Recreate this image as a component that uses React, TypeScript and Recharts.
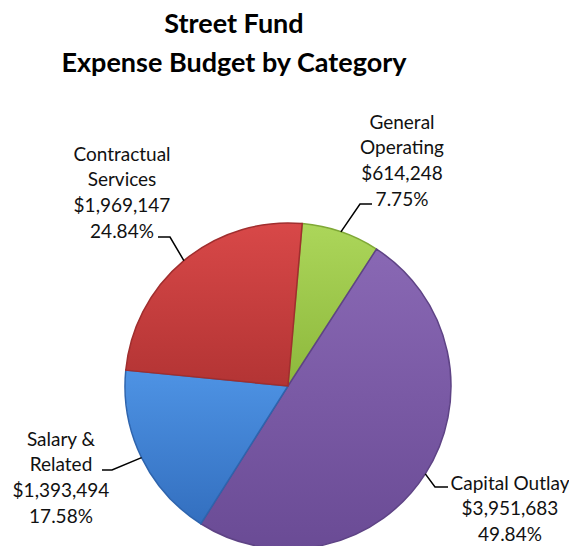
import React from "react";
import { PieChart, Pie, Cell } from "recharts";

const categories = ["General Operating", "Capital Outlay", "Salary & Related", "Contractual Services"];
const labelNames = [["General", "Operating"], ["Capital Outlay"], ["Salary &", "Related"], ["Contractual", "Services"]];
const amounts = [614248, 3951683, 1393494, 1969147];
const percentLabels = ["7.75%", "49.84%", "17.58%", "24.84%"];
const titleLines = ["Street Fund", "Expense Budget by Category"];

const colorsTop = ["#acd65a", "#8968b4", "#4e93e4", "#d84848"];
const colorsBottom = ["#8db83c", "#6a4b95", "#336fbf", "#b33434"];
const strokeColors = ["#7fa836", "#5e4385", "#2e64ad", "#a02e2e"];

// label layout relative to the pie centre: elbow, line end, text centre x, first line centre y
const labelLayout = [
  { ex: 72, ey: -182, lx: 84, ly: -182, tx: 114, ty: -265 },
  { ex: 147, ey: 101, lx: 160, ly: 101, tx: 222, ty: 96 },
  { ex: -176, ey: 84, lx: -186, ly: 84, tx: -227, ty: 52 },
  { ex: -118, ey: -149, lx: -130, ly: -149, tx: -166, ty: -233 },
];

const data = categories.map((name, i) => ({ name, value: amounts[i] }));

const fmt = (v: number) => "$" + v.toLocaleString("en-US");

const RAD = Math.PI / 180;
const FONT = "Lato, 'Open Sans', sans-serif";

const renderLabel = (props: any) => {
  const { cx, cy, midAngle, outerRadius, index } = props;
  const sx = cx + outerRadius * Math.cos(-midAngle * RAD);
  const sy = cy + outerRadius * Math.sin(-midAngle * RAD);
  const lay = labelLayout[index];
  const lines = [...labelNames[index], fmt(amounts[index]), percentLabels[index]];
  return (
    <g key={"lbl" + index}>
      <polyline
        points={`${sx},${sy} ${cx + lay.ex},${cy + lay.ey} ${cx + lay.lx},${cy + lay.ly}`}
        fill="none"
        stroke="#000"
        strokeWidth={1.5}
      />
      <text
        x={cx + lay.tx}
        y={cy + lay.ty}
        textAnchor="middle"
        fontFamily={FONT}
        fontSize={19}
        fill="#111"
      >
        {lines.map((l, k) => (
          <tspan key={k} x={cx + lay.tx} y={cy + lay.ty + k * 25.8} dominantBaseline="central">
            {l}
          </tspan>
        ))}
      </text>
    </g>
  );
};

export default function App() {
  return (
    <div style={{ position: "absolute", left: 0, top: 0, width: 569, height: 546, background: "#fff" }}>
      <PieChart width={569} height={546}>
        <defs>
          {categories.map((_, i) => (
            <linearGradient key={i} id={"g" + i} x1="0" y1="0" x2="0" y2="1">
              <stop offset="0%" stopColor={colorsTop[i]} />
              <stop offset="100%" stopColor={colorsBottom[i]} />
            </linearGradient>
          ))}
        </defs>
        <Pie
          data={data}
          dataKey="value"
          nameKey="name"
          cx={283}
          cy={381}
          outerRadius={163}
          startAngle={85}
          endAngle={-275}
          isAnimationActive={false}
          label={renderLabel}
          labelLine={false}
          stroke="none"
        >
          {data.map((_, i) => (
            <Cell key={i} fill={`url(#g${i})`} stroke={strokeColors[i]} strokeWidth={1.5} />
          ))}
        </Pie>
      </PieChart>
      <svg
        width={569}
        height={546}
        style={{ position: "absolute", left: 0, top: 0, pointerEvents: "none" }}
      >
        {titleLines.map((t, i) => (
          <text
            key={i}
            x={234}
            y={33 + i * 39}
            textAnchor="middle"
            fontFamily={FONT}
            fontWeight="bold"
            fontSize={27}
            fill="#000"
          >
            {t}
          </text>
        ))}
      </svg>
    </div>
  );
}
